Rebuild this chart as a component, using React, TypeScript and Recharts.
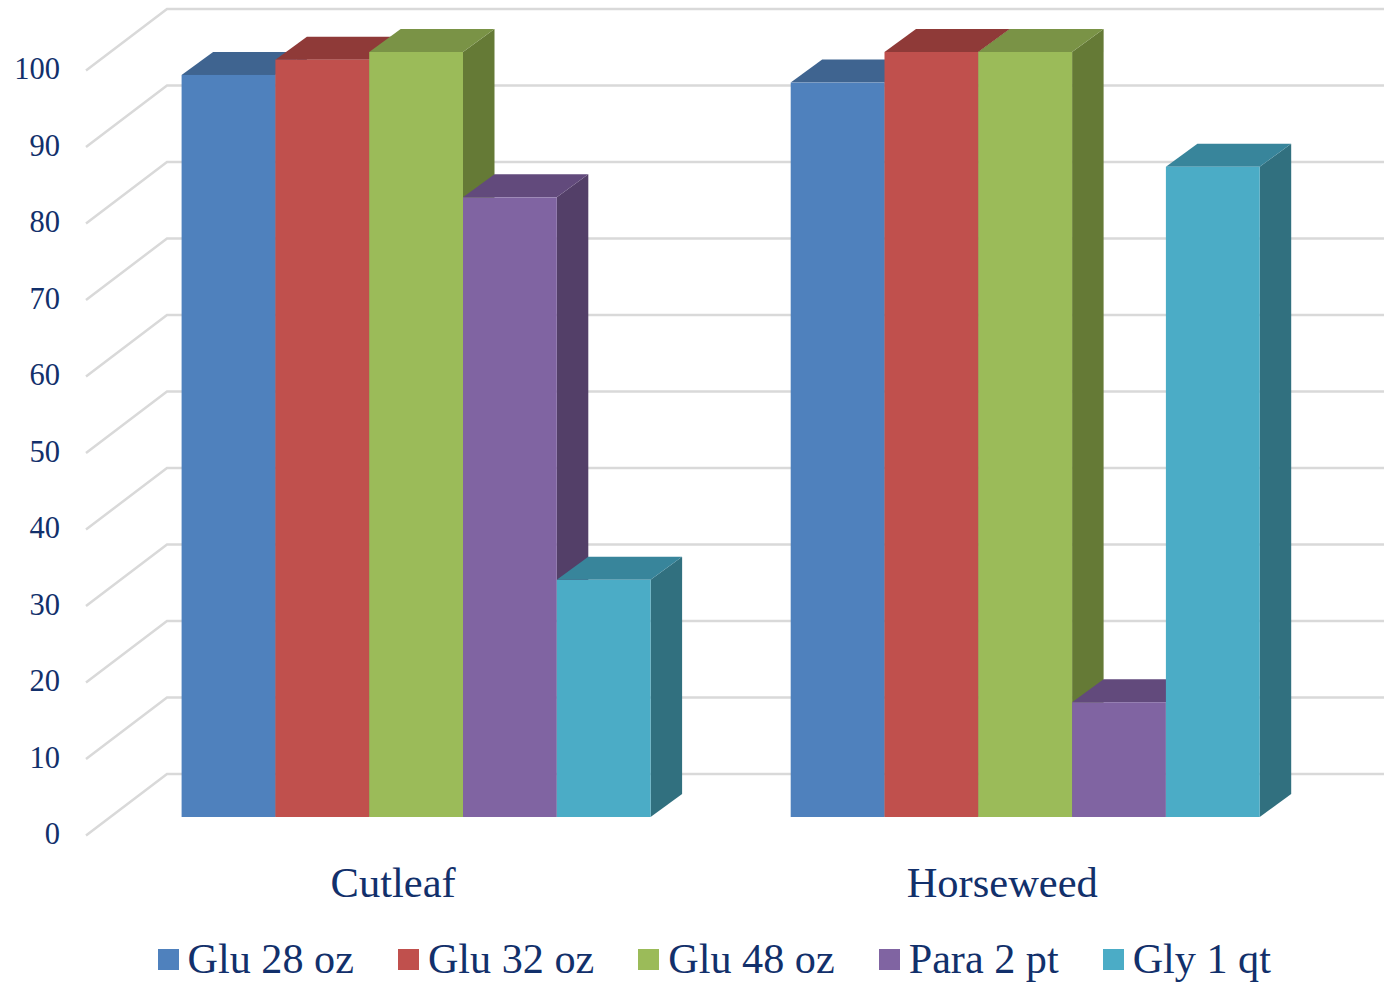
import React from "react";
import { BarChart, Bar, XAxis, YAxis, CartesianGrid, Legend } from "recharts";

const categories = ["Cutleaf", "Horseweed"];
const seriesNames = ["Glu 28 oz", "Glu 32 oz", "Glu 48 oz", "Para 2 pt", "Gly 1 qt"];
const glu28 = [97, 96];
const glu32 = [99, 100];
const glu48 = [100, 100];
const para2 = [81, 15];
const gly1 = [31, 85];
const seriesValues = [glu28, glu32, glu48, para2, gly1];
const yTicks = [0, 10, 20, 30, 40, 50, 60, 70, 80, 90, 100];

const frontColors = ["#4F81BD", "#C0504D", "#9BBB59", "#8064A2", "#4BACC6"];
const topColors = ["#3F6490", "#8F3A38", "#7A9346", "#624A7C", "#38859B"];
const sideColors = ["#335378", "#73302E", "#657A36", "#533F68", "#31707F"];

const rows = categories.map((name, i) => {
  const row: Record<string, string | number> = { name };
  seriesNames.forEach((s, j) => {
    row[s] = seriesValues[j][i];
  });
  return row;
});

const FONT = '"Liberation Serif", serif';
const TEXT = "#12306B";
const GRID = "#D9D9D9";
const DX = 31.5;
const DY = -23;

const makeShape = (idx: number) => (p: any) => {
  const { x, y, width, height } = p;
  const r = x + width;
  const b = y + height;
  return (
    <g>
      <polygon
        points={`${r},${y} ${r + DX},${y + DY} ${r + DX},${b + DY} ${r},${b}`}
        fill={sideColors[idx]}
      />
      <polygon
        points={`${x},${y} ${x + DX},${y + DY} ${r + DX},${y + DY} ${r},${y}`}
        fill={topColors[idx]}
      />
      <rect x={x} y={y} width={width} height={height} fill={frontColors[idx]} />
    </g>
  );
};

const gridLine = (p: any) => {
  const y = p.y1;
  return (
    <g key={p.key}>
      <polyline
        points={`86,${y + 18.5} 167,${y - 43} 1384,${y - 43}`}
        fill="none"
        stroke={GRID}
        strokeWidth={2.5}
      />
    </g>
  );
};

const YTick = (p: any) => (
  <text
    x={60}
    y={p.y + 17}
    textAnchor="end"
    dominantBaseline="central"
    fontFamily={FONT}
    fontSize={30.5}
    fill={TEXT}
  >
    {p.payload.value}
  </text>
);

const XTick = (p: any) => (
  <text
    x={p.x - 23}
    y={897}
    textAnchor="middle"
    fontFamily={FONT}
    fontSize={42.5}
    fill={TEXT}
  >
    {p.payload.value}
  </text>
);

const LegendContent = (p: any) => (
  <div
    style={{
      position: "absolute",
      left: 157.5,
      top: 935,
      display: "flex",
      gap: 44,
      whiteSpace: "nowrap",
      fontFamily: FONT,
      fontSize: 42.2,
      lineHeight: "48px",
      color: TEXT,
    }}
  >
    {(p.payload || []).map((e: any) => (
      <div key={e.value} style={{ display: "flex", alignItems: "center" }}>
        <span
          style={{ display: "inline-block", width: 21, height: 21, background: e.color, marginRight: 9 }}
        />
        <span>{e.value}</span>
      </div>
    ))}
  </div>
);

export default function App() {
  return (
    <div style={{ position: "absolute", left: 0, top: 0, width: 1384, height: 987, background: "#fff" }}>
      <BarChart
        width={1384}
        height={987}
        data={rows}
        barGap={0}
        barSize={93.8}
        margin={{ top: 52, right: 54.2, bottom: 110, left: 11.6 }}
      >
        <CartesianGrid horizontal={gridLine} vertical={false} syncWithTicks />
        <XAxis dataKey="name" height={60} axisLine={false} tickLine={false} tick={XTick} interval={0} />
        <YAxis
          width={100}
          domain={[0, 100]}
          ticks={yTicks}
          interval={0}
          axisLine={false}
          tickLine={false}
          tick={YTick}
        />
        <Legend
          content={LegendContent}
          itemSorter={null}
          wrapperStyle={{ left: 0, top: 0, width: 1384, height: 0, bottom: "auto" }}
        />
        {seriesNames.map((s, i) => (
          <Bar key={s} dataKey={s} fill={frontColors[i]} shape={makeShape(i)} isAnimationActive={false} />
        ))}
      </BarChart>
    </div>
  );
}
